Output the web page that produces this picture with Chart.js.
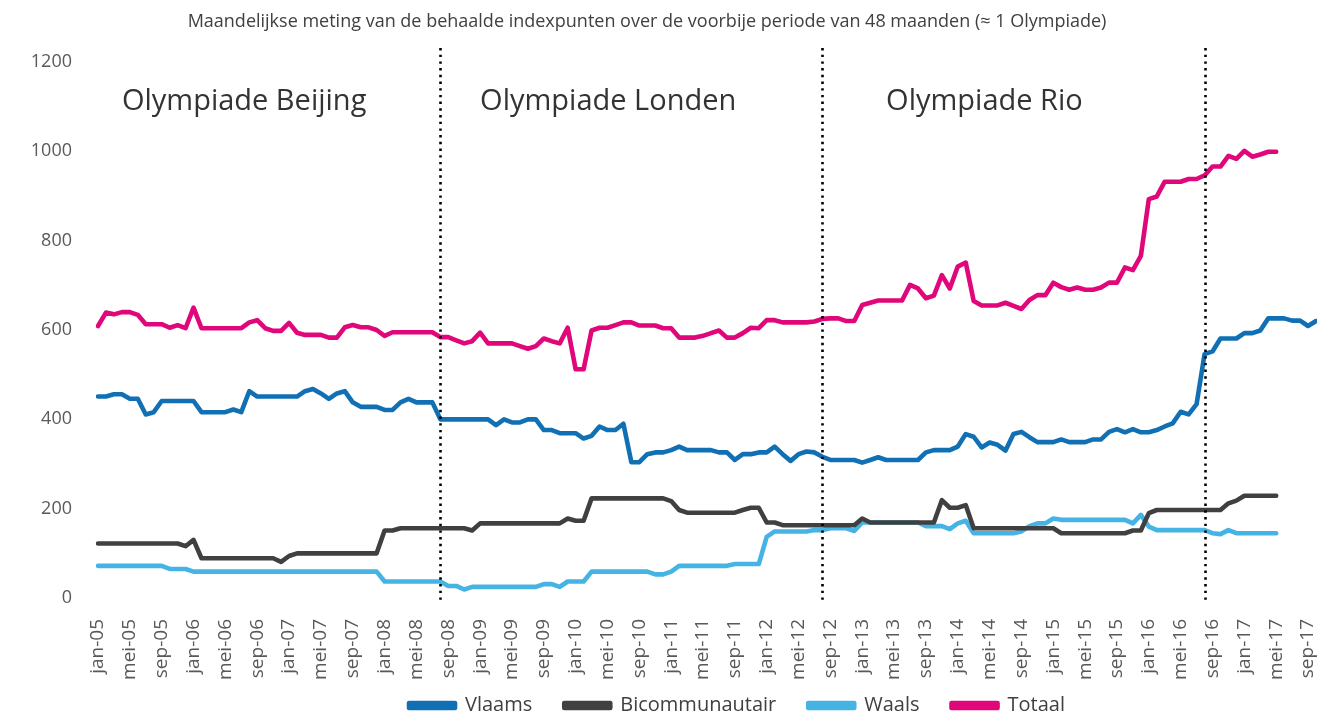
<!DOCTYPE html>
<html>
<head>
<meta charset="utf-8">
<script src="https://cdn.jsdelivr.net/npm/chart.js@4.4.1/dist/chart.umd.min.js"></script>
<style>
  html, body { margin: 0; padding: 0; background: #ffffff; }
  #wrap { position: relative; width: 1317px; height: 719px; }
</style>
</head>
<body>
<div id="wrap"><canvas id="c"></canvas></div>
<script>
// ---------- DATA ----------
const months = [
  'jan-05','feb-05','mrt-05','apr-05','mei-05','jun-05','jul-05','aug-05','sep-05','okt-05','nov-05','dec-05',
  'jan-06','feb-06','mrt-06','apr-06','mei-06','jun-06','jul-06','aug-06','sep-06','okt-06','nov-06','dec-06',
  'jan-07','feb-07','mrt-07','apr-07','mei-07','jun-07','jul-07','aug-07','sep-07','okt-07','nov-07','dec-07',
  'jan-08','feb-08','mrt-08','apr-08','mei-08','jun-08','jul-08','aug-08','sep-08','okt-08','nov-08','dec-08',
  'jan-09','feb-09','mrt-09','apr-09','mei-09','jun-09','jul-09','aug-09','sep-09','okt-09','nov-09','dec-09',
  'jan-10','feb-10','mrt-10','apr-10','mei-10','jun-10','jul-10','aug-10','sep-10','okt-10','nov-10','dec-10',
  'jan-11','feb-11','mrt-11','apr-11','mei-11','jun-11','jul-11','aug-11','sep-11','okt-11','nov-11','dec-11',
  'jan-12','feb-12','mrt-12','apr-12','mei-12','jun-12','jul-12','aug-12','sep-12','okt-12','nov-12','dec-12',
  'jan-13','feb-13','mrt-13','apr-13','mei-13','jun-13','jul-13','aug-13','sep-13','okt-13','nov-13','dec-13',
  'jan-14','feb-14','mrt-14','apr-14','mei-14','jun-14','jul-14','aug-14','sep-14','okt-14','nov-14','dec-14',
  'jan-15','feb-15','mrt-15','apr-15','mei-15','jun-15','jul-15','aug-15','sep-15','okt-15','nov-15','dec-15',
  'jan-16','feb-16','mrt-16','apr-16','mei-16','jun-16','jul-16','aug-16','sep-16','okt-16','nov-16','dec-16',
  'jan-17','feb-17','mrt-17','apr-17','mei-17','jun-17','jul-17','aug-17','sep-17','okt-17'
];

const tickLabels = [
  'jan-05','mei-05','sep-05','jan-06','mei-06','sep-06','jan-07','mei-07','sep-07',
  'jan-08','mei-08','sep-08','jan-09','mei-09','sep-09','jan-10','mei-10','sep-10',
  'jan-11','mei-11','sep-11','jan-12','mei-12','sep-12','jan-13','mei-13','sep-13',
  'jan-14','mei-14','sep-14','jan-15','mei-15','sep-15','jan-16','mei-16','sep-16',
  'jan-17','mei-17','sep-17'
];

const yTicks = [0, 200, 400, 600, 800, 1000, 1200];

const vlaams = [
  451,451,456,456,446,446,411,416,441,441,
  441,441,441,416,416,416,416,422,416,463,
  451,451,451,451,451,451,463,468,458,446,
  458,463,438,428,428,428,421,421,438,446,
  438,438,438,400,400,400,400,400,400,400,
  387,400,393,393,400,400,376,376,369,369,
  369,357,363,384,376,376,390,304,304,322,
  326,326,331,339,331,331,331,331,326,326,
  309,322,322,326,326,339,322,307,322,328,
  326,316,309,309,309,309,303,309,315,309,
  309,309,309,309,326,331,331,331,339,367,
  361,337,348,343,330,367,372,360,349,349,
  349,355,349,349,349,355,355,372,378,371,
  378,371,371,376,384,391,417,411,434,546,
  552,581,581,581,593,593,599,626,626,626,
  621,621,609,620
];

const bicommunautair = [
  122,122,122,122,122,122,122,122,122,122,
  122,116,130,89,89,89,89,89,89,89,
  89,89,89,81,94,100,100,100,100,100,
  100,100,100,100,100,100,151,151,156,156,
  156,156,156,156,156,156,156,151,167,167,
  167,167,167,167,167,167,167,167,167,178,
  173,173,223,223,223,223,223,223,223,223,
  223,223,217,197,191,191,191,191,191,191,
  191,197,202,202,169,169,163,163,163,163,
  163,163,163,163,163,163,178,169,169,169,
  169,169,169,169,169,169,219,202,202,208,
  156,156,156,156,156,156,156,156,156,156,
  156,145,145,145,145,145,145,145,145,145,
  151,151,190,197,197,197,197,197,197,197,
  197,197,212,218,229,229,229,229,229,null,
  null,null,null,null
];

const waals = [
  72,72,72,72,72,72,72,72,72,65,
  65,65,59,59,59,59,59,59,59,59,
  59,59,59,59,59,59,59,59,59,59,
  59,59,59,59,59,59,37,37,37,37,
  37,37,37,37,27,27,19,25,25,25,
  25,25,25,25,25,25,31,31,25,37,
  37,37,59,59,59,59,59,59,59,59,
  53,53,59,72,72,72,72,72,72,72,
  76,76,76,76,137,149,149,149,149,149,
  152,152,156,156,156,150,169,169,169,169,
  169,169,169,169,161,161,161,154,167,173,
  145,145,145,145,145,145,149,161,167,167,
  178,175,175,175,175,175,175,175,175,175,
  167,186,160,152,152,152,152,152,152,152,
  145,143,152,145,145,145,145,145,145,null,
  null,null,null,null
];

const totaal = [
  609,639,635,640,640,634,613,613,613,605,
  611,604,650,604,604,604,604,604,604,617,
  622,604,598,598,616,594,589,589,589,583,
  583,606,611,606,606,600,587,595,595,595,
  595,595,595,584,584,577,570,575,594,570,
  570,570,570,564,558,564,581,575,570,605,
  512,512,599,605,605,611,617,617,610,610,
  610,604,604,583,583,583,587,593,599,583,
  583,593,605,604,622,622,617,617,617,617,
  619,625,626,626,620,620,656,661,666,666,
  666,666,701,693,671,677,723,693,742,751,
  665,655,655,655,661,654,647,667,678,678,
  706,696,690,695,690,690,695,706,706,740,
  734,766,893,899,932,932,932,938,938,946,
  966,966,990,983,1001,988,993,999,999,null,
  null,null,null,null
];

const olympicStart = ['aug-08', 'aug-12', 'aug-16'];
const olympicNames = ['Olympiade Beijing', 'Olympiade Londen', 'Olympiade Rio'];
const olympicNameAt = ['apr-05', 'jan-09', 'apr-13'];

const titleText = 'Maandelijkse meting van de behaalde indexpunten over de voorbije periode van 48 maanden (\u2248 1 Olympiade)';

// ---------- STYLE ----------
const FONT = "'Open Sans', 'Noto Sans', sans-serif";
const colors = { vlaams: '#1170b4', bicom: '#404040', waals: '#45b3e3', totaal: '#e0077a' };
const LEGEND_PAD = 32;
const LEGEND_FONT = 20;

const olympicPlugin = {
  id: 'olympic',
  afterLayout(chart) {
    const L = chart.legend;
    if (L) {
      L.left += 79; L.right += 79;
      const top = 705.5 - LEGEND_PAD - LEGEND_FONT / 2;
      L.top = top; L.bottom = chart.height; L.height = L.bottom - L.top;
    }
    const T = chart.titleBlock;
    if (T) { T.left -= 11; T.right -= 11; }
  },
  afterDatasetsDraw(chart) {
    const ctx = chart.ctx;
    const xs = chart.scales.x;
    const area = chart.chartArea;
    ctx.save();
    ctx.strokeStyle = '#000000';
    ctx.lineWidth = 2.6;
    ctx.setLineDash([2.4, 4.3]);
    olympicStart.forEach(m => {
      const x = Math.round(xs.getPixelForValue(months.indexOf(m))) + 0.5;
      ctx.beginPath();
      ctx.moveTo(x, area.top - 14);
      ctx.lineTo(x, area.bottom + 2);
      ctx.stroke();
    });
    ctx.setLineDash([]);
    ctx.fillStyle = '#333333';
    ctx.font = "29px " + FONT;
    ctx.textAlign = 'left';
    ctx.textBaseline = 'middle';
    olympicNames.forEach((name, i) => {
      const x = xs.getPixelForValue(months.indexOf(olympicNameAt[i]));
      ctx.fillText(name, x, area.top + 40);
    });
    ctx.restore();
  }
};

function ds(label, data, color) {
  return {
    label, data,
    borderColor: color, backgroundColor: color,
    borderWidth: 4.6, pointRadius: 0, pointHoverRadius: 0,
    tension: 0, borderJoinStyle: 'round', borderCapStyle: 'round',
    spanGaps: false
  };
}

new Chart(document.getElementById('c'), {
  type: 'line',
  data: {
    labels: months,
    datasets: [
      ds('Vlaams', vlaams, colors.vlaams),
      ds('Bicommunautair', bicommunautair, colors.bicom),
      ds('Waals', waals, colors.waals),
      ds('Totaal', totaal, colors.totaal)
    ]
  },
  options: {
    responsive: true,
    maintainAspectRatio: false,
    animation: false,
    events: [],
    layout: { padding: { left: 0, right: 1, top: 0, bottom: 0 } },
    plugins: {
      title: {
        display: true,
        text: titleText,
        color: '#404040',
        font: { family: FONT, size: 18, weight: 'normal' },
        padding: { top: 11, bottom: 29.4 }
      },
      legend: {
        position: 'bottom',
        maxHeight: 31,
        labels: {
          color: '#404040',
          font: { family: FONT, size: LEGEND_FONT },
          boxWidth: 46,
          boxHeight: 5,
          padding: LEGEND_PAD
        }
      },
      tooltip: { enabled: false }
    },
    scales: {
      x: {
        type: 'category',
        grid: { display: false, drawTicks: false },
        border: { display: false },
        ticks: {
          autoSkip: false,
          maxRotation: 90,
          minRotation: 90,
          padding: 21,
          color: '#595959',
          font: { family: FONT, size: 19 },
          callback: function (v, i) {
            const l = months[i];
            return tickLabels.includes(l) ? l : null;
          }
        },
        afterFit: s => { s.height = 90; s.paddingLeft = 0; s.paddingRight = 0; }
      },
      y: {
        min: 0, max: 1200,
        grid: { display: false, drawTicks: false },
        border: { display: false },
        afterBuildTicks: s => { s.ticks = yTicks.map(v => ({ value: v })); },
        ticks: {
          padding: 26,
          color: '#595959',
          font: { family: FONT, size: 18 },
          callback: v => String(v)
        },
        afterFit: s => { s.width = 98; }
      }
    }
  },
  plugins: [olympicPlugin]
});
</script>
</body>
</html>
